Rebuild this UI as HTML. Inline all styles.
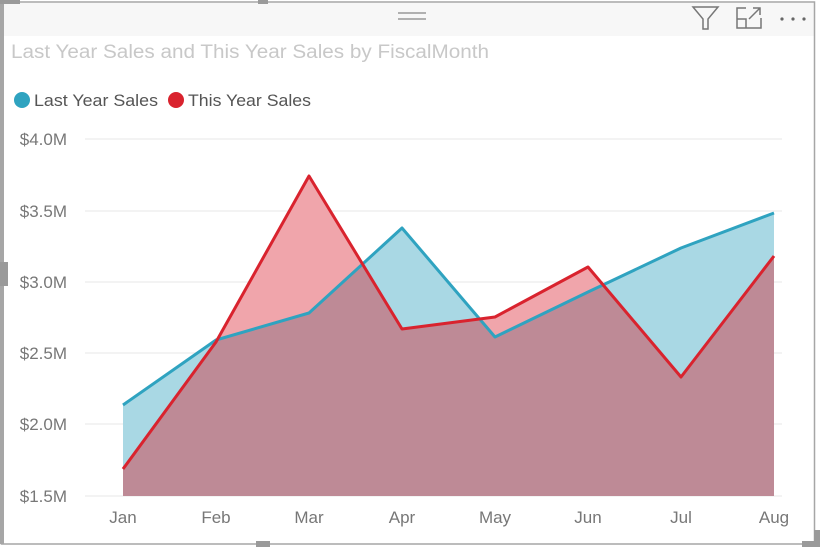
<!DOCTYPE html>
<html><head><meta charset="utf-8"><style>
html,body{margin:0;padding:0;background:#fff;}
body{width:820px;height:549px;position:relative;overflow:hidden;font-family:"Liberation Sans",sans-serif;}
</style></head><body>
<svg width="820" height="549" viewBox="0 0 820 549" xmlns="http://www.w3.org/2000/svg" style="position:absolute;left:0;top:0">
<defs>
<clipPath id="cb"><polygon points="123,405 216,340 309,313 402,228 495,337 588,292 681,248 774,213 774,496 123,496"/></clipPath>
</defs>
<rect x="0" y="0" width="820" height="549" fill="#fff"/>
<rect x="4" y="3" width="810" height="33" fill="#f7f7f7"/>
<!-- frame -->
<rect x="1.5" y="2" width="813" height="542" fill="none" stroke="#a6a6a6" stroke-width="1.5"/>
<rect x="0" y="2" width="4" height="542" fill="#a6a6a6"/>
<rect x="0" y="0" width="20" height="4" fill="#9a9a9a"/>
<rect x="258" y="0" width="10" height="4" fill="#9a9a9a"/>
<rect x="256" y="541" width="14" height="6" fill="#9a9a9a"/>
<rect x="0" y="262" width="8" height="24" fill="#9a9a9a"/>
<rect x="802" y="541" width="18" height="6" fill="#9a9a9a"/>
<rect x="814" y="530" width="6" height="17" fill="#9a9a9a"/>
<!-- header icons -->
<line x1="398" y1="13" x2="426" y2="13" stroke="#999" stroke-width="1.5"/>
<line x1="398" y1="19" x2="426" y2="19" stroke="#999" stroke-width="1.5"/>
<path d="M693,7 L718,7 L708,19 L708,29 L703,29 L703,19 Z" fill="none" stroke="#777" stroke-width="1.5"/>
<path d="M746,8 L737,8 L737,28 L761,28 L761,18" fill="none" stroke="#777" stroke-width="1.5"/>
<path d="M737,19 L746,19 L746,28 M749,19 L760,8 M753,8 L760,8 L760,15" fill="none" stroke="#777" stroke-width="1.5"/>
<circle cx="782" cy="19" r="1.6" fill="#666"/><circle cx="793" cy="19" r="1.6" fill="#666"/><circle cx="804" cy="19" r="1.6" fill="#666"/>
<!-- title -->
<text x="11" y="58" font-size="19" fill="#c8c8c8" font-family="Liberation Sans, sans-serif" textLength="478" lengthAdjust="spacingAndGlyphs">Last Year Sales and This Year Sales by FiscalMonth</text>
<circle cx="22" cy="100" r="8" fill="#2fa3c0"/>
<text x="34" y="106" font-size="17" fill="#555" textLength="124" lengthAdjust="spacingAndGlyphs">Last Year Sales</text>
<circle cx="176" cy="100" r="8" fill="#d9232e"/>
<text x="188" y="106" font-size="17" fill="#555" textLength="123" lengthAdjust="spacingAndGlyphs">This Year Sales</text>
<!-- grid -->
<g stroke="#ececec" stroke-width="1.2">
<line x1="85" y1="139" x2="782" y2="139"/>
<line x1="85" y1="211" x2="782" y2="211"/>
<line x1="85" y1="282" x2="782" y2="282"/>
<line x1="85" y1="353" x2="782" y2="353"/>
<line x1="85" y1="424" x2="782" y2="424"/>
<line x1="85" y1="496" x2="782" y2="496"/>
</g>
<g font-size="17" fill="#777" text-anchor="end">
<text x="67" y="145">$4.0M</text>
<text x="67" y="217">$3.5M</text>
<text x="67" y="288">$3.0M</text>
<text x="67" y="359">$2.5M</text>
<text x="67" y="430">$2.0M</text>
<text x="67" y="502">$1.5M</text>
</g>
<!-- areas -->
<polygon points="123,405 216,340 309,313 402,228 495,337 588,292 681,248 774,213 774,496 123,496" fill="#a9d8e4"/>
<polygon points="123,469 216,342 309,176 402,329 495,317 588,267 681,377 774,256 774,496 123,496" fill="#f0a5ab"/>
<polygon clip-path="url(#cb)" points="123,469 216,342 309,176 402,329 495,317 588,267 681,377 774,256 774,496 123,496" fill="#be8a96"/>
<polyline points="123,405 216,340 309,313 402,228 495,337 588,292 681,248 774,213" fill="none" stroke="#2fa3c0" stroke-width="3" stroke-linejoin="round"/>
<polyline points="123,469 216,342 309,176 402,329 495,317 588,267 681,377 774,256" fill="none" stroke="#d9232e" stroke-width="3" stroke-linejoin="round"/>
<g font-size="17" fill="#777" text-anchor="middle">
<text x="123" y="523">Jan</text><text x="216" y="523">Feb</text><text x="309" y="523">Mar</text><text x="402" y="523">Apr</text>
<text x="495" y="523">May</text><text x="588" y="523">Jun</text><text x="681" y="523">Jul</text><text x="774" y="523">Aug</text>
</g>
</svg>
</body></html>
